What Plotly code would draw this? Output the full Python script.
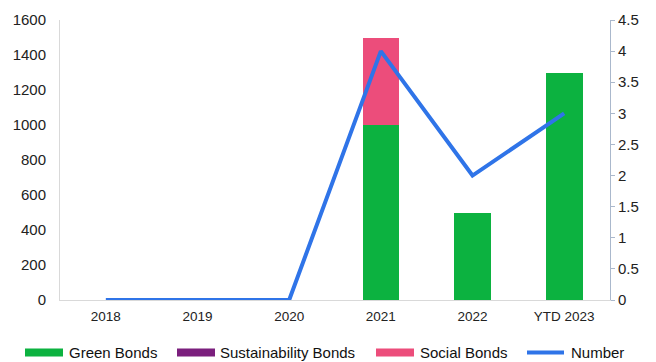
import plotly.graph_objects as go

categories = ["2018", "2019", "2020", "2021", "2022", "YTD 2023"]
green_bonds = [0, 0, 0, 1000, 500, 1300]
sustainability_bonds = [0, 0, 0, 0, 0, 0]
social_bonds = [0, 0, 0, 500, 0, 0]
number = [0, 0, 0, 4, 2, 3]

series_names = ["Green Bonds", "Sustainability Bonds", "Social Bonds", "Number"]

GREEN = "#0cb240"
PURPLE = "#7b1f7d"
PINK = "#ec4d7b"
BLUE = "#2f74e8"
FONT = "Liberation Sans, Arial"

W, H = 656, 362
ML, MR, MT, MB = 60, 46, 20, 62
PW, PH = W - ML - MR, H - MT - MB


def px(x):
    return (x - ML) / PW


def py(y):
    return (H - MB - y) / PH


fig = go.Figure()
for name, vals, col in [(series_names[0], green_bonds, GREEN),
                        (series_names[1], sustainability_bonds, PURPLE),
                        (series_names[2], social_bonds, PINK)]:
    fig.add_trace(go.Bar(x=categories, y=vals, name=name, marker_color=col,
                         marker_line_width=0, width=0.4))

fig.add_trace(go.Scatter(x=categories, y=number, name=series_names[3], mode="lines",
                         line=dict(color=BLUE, width=4), yaxis="y2"))

# manual legend (long swatches like the original)
legend_items = [
    (series_names[0], GREEN, "rect", 25, 67),
    (series_names[1], PURPLE, "rect", 177, 218),
    (series_names[2], PINK, "rect", 376, 418),
    (series_names[3], BLUE, "line", 525, 569),
]
shapes = []
annotations = []
LY = 352.5
for name, col, kind, x0, tx in legend_items:
    if kind == "rect":
        shapes.append(dict(type="rect", xref="paper", yref="paper",
                           x0=px(x0), x1=px(x0 + 38), y0=py(LY + 4), y1=py(LY - 4),
                           fillcolor=col, line_width=0))
    else:
        shapes.append(dict(type="line", xref="paper", yref="paper",
                           x0=px(x0 + 2), x1=px(x0 + 39), y0=py(LY), y1=py(LY),
                           line=dict(color=col, width=4)))
    annotations.append(dict(text=name, xref="paper", yref="paper",
                            x=px(tx), y=py(LY), xanchor="left", yanchor="middle",
                            showarrow=False, font=dict(size=15, family=FONT, color="#111111")))

fig.update_layout(
    width=W, height=H,
    margin=dict(l=ML, r=MR, t=MT, b=MB),
    barmode="stack",
    showlegend=False,
    plot_bgcolor="white", paper_bgcolor="white",
    font=dict(family=FONT, size=12, color="#222222"),
    xaxis=dict(showline=True, linecolor="#d9d9d9", linewidth=1, ticks="",
               showgrid=False, tickfont=dict(size=13.5), ticklabelstandoff=4),
    yaxis=dict(range=[0, 1600], dtick=200, showgrid=False, showline=True,
               linecolor="#d9d9d9", linewidth=1, ticks="", zeroline=False,
               tickfont=dict(size=15), ticklabelstandoff=10),
    yaxis2=dict(range=[0, 4.5], dtick=0.5, overlaying="y", side="right",
                showgrid=False, showline=True, linecolor="#aab8cc", linewidth=1,
                ticks="outside", ticklen=4, tickcolor="#aab8cc",
                zeroline=False, tickfont=dict(size=15)),
    shapes=shapes,
    annotations=annotations,
)

fig.write_html("out.html")
